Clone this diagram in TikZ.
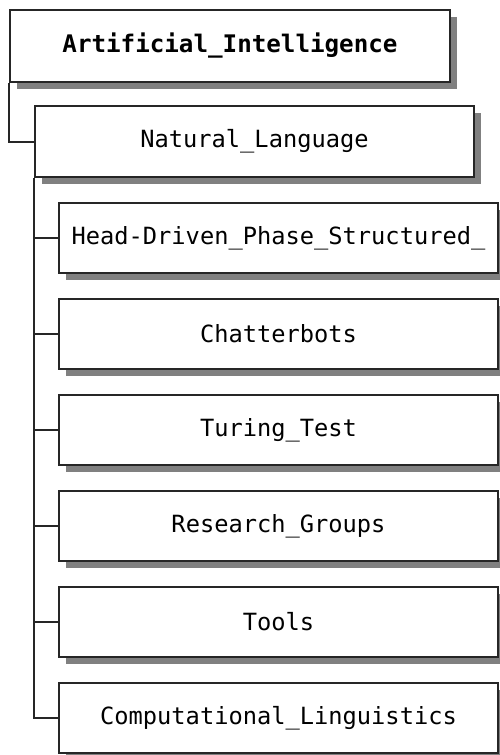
\documentclass[tikz,border=0pt]{standalone}
\usepackage{fontspec}
\newfontfamily\dvm{DejaVu Sans Mono}
\usetikzlibrary{shadows}
\begin{document}
\begin{tikzpicture}[x=1pt,y=1pt,
  box/.style={draw=black!85, line width=1.5pt, fill=white, rectangle, inner sep=0pt,
    minimum width=439pt, minimum height=70pt,
    font=\dvm\fontsize{23.7}{28}\selectfont,
    drop shadow={shadow xshift=6.5pt, shadow yshift=-6.5pt, fill=black!50, opacity=1}},
  link/.style={draw=black!85, line width=2pt}]
\useasboundingbox (0,0) rectangle (500,-755);
\node[box, minimum width=440pt, minimum height=72pt, font=\dvm\bfseries\fontsize{24.2}{29}\selectfont] (root) at (230,-46) {Artificial\_Intelligence};
\node[box, minimum height=71pt] (nl) at (254.5,-141.5) {Natural\_Language};
\node[box] (c1) at (278.5,-238) {Head-Driven\_Phase\_Structured\_};
\node[box] (c2) at (278.5,-334) {Chatterbots};
\node[box] (c3) at (278.5,-430) {Turing\_Test};
\node[box] (c4) at (278.5,-526) {Research\_Groups};
\node[box] (c5) at (278.5,-622) {Tools};
\node[box] (c6) at (278.5,-718) {Computational\_Linguistics};
\draw[link] (root.south west) |- (nl.west);
\foreach \c in {c1,c2,c3,c4,c5,c6}{
  \draw[link] (nl.south west) |- (\c.west);
}
\end{tikzpicture}
\end{document}
